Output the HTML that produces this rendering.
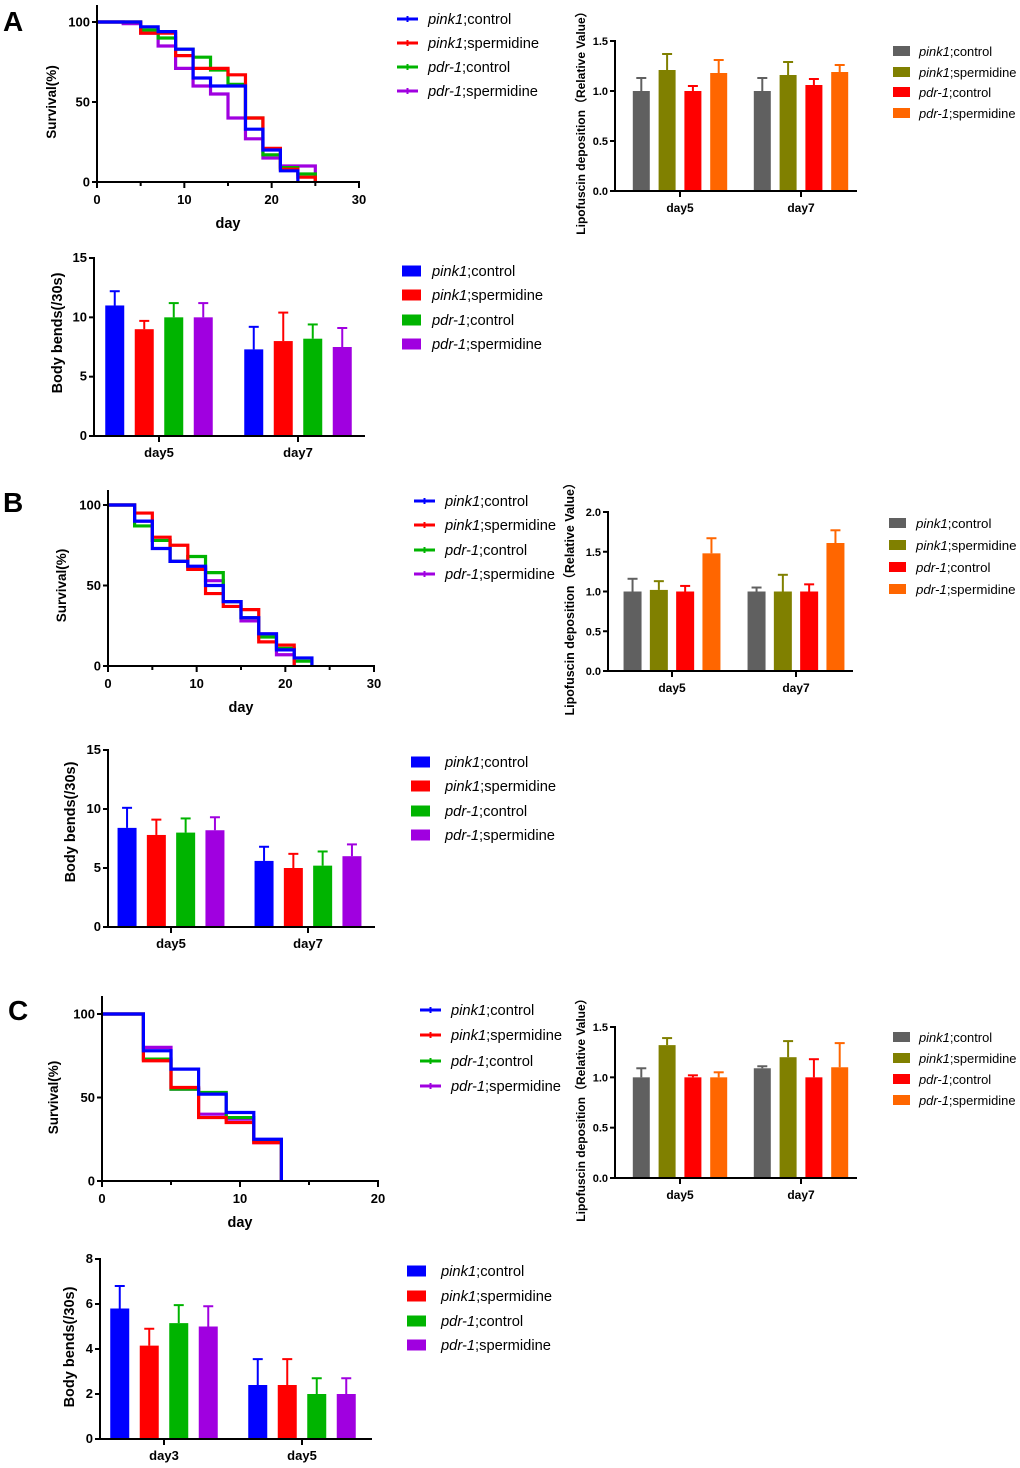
<!DOCTYPE html>
<html><head><meta charset="utf-8">
<style>
body{margin:0;background:#fff;}
svg{display:block;font-family:"Liberation Sans",Arial,sans-serif;}
</style></head>
<body>
<svg id="fig" width="1020" height="1468" viewBox="0 0 1020 1468" xmlns="http://www.w3.org/2000/svg">
<text x="3" y="31" font-size="28" font-weight="bold">A</text>
<text x="3" y="512" font-size="28" font-weight="bold">B</text>
<text x="8" y="1020" font-size="28" font-weight="bold">C</text>
</svg>
<script>
// ===== Data =====
const survTimesA=[0,3,5,7,9,11,13,15,17,19,21,23,25];
const survBlueA=[100,100,97,94,83,65,60,60,33,20,7,0,0];
const survRedA=[100,100,93,93,79,71,71,67,40,21,8,3,0];
const survGreenA=[100,100,95,90,83,78,70,61,40,17,9,5,0];
const survPurpleA=[100,99,93,85,71,60,55,40,27,15,10,10,0];

const survTimesB=[0,3,5,7,9,11,13,15,17,19,21,23];
const survBlueB=[100,90,73,65,62,50,40,30,20,10,5,0];
const survRedB=[100,95,80,75,60,45,37,35,15,13,0,0];
const survGreenB=[100,87,78,65,68,58,40,30,18,11,3,0];
const survPurpleB=[100,90,78,65,61,53,40,28,20,7,0,0];

const survTimesC=[0,3,5,7,9,11,13];
const survBlueC=[100,78,67,52,41,25,0];
const survRedC=[100,72,56,38,35,23,0];
const survGreenC=[100,73,55,53,38,24,0];
const survPurpleC=[100,80,55,40,37,23,0];

const survXTicksAB=[0,10,20,30];
const survXTicksC=[0,10,20];
const survYTicks=[0,50,100];

const lipoGroupsAB=["day5","day7"];
const lipoMeanA=[1.0,1.21,1.0,1.18, 1.0,1.16,1.06,1.19];
const lipoErrA=[0.13,0.16,0.05,0.13, 0.13,0.13,0.06,0.07];
const lipoMeanB=[1.0,1.02,1.0,1.48, 1.0,1.0,1.0,1.61];
const lipoErrB=[0.16,0.11,0.07,0.19, 0.05,0.21,0.09,0.16];
const lipoMeanC=[1.0,1.32,1.0,1.0, 1.09,1.2,1.0,1.1];
const lipoErrC=[0.09,0.07,0.02,0.05, 0.02,0.16,0.18,0.24];
const lipoTicksAC=["0.0","0.5","1.0","1.5"];
const lipoTicksB=["0.0","0.5","1.0","1.5","2.0"];

const bendGroupsAB=["day5","day7"];
const bendGroupsC=["day3","day5"];
const bendMeanA=[11,9,10,10, 7.3,8,8.2,7.5];
const bendErrA=[1.2,0.7,1.2,1.2, 1.9,2.4,1.2,1.6];
const bendMeanB=[8.4,7.8,8.0,8.2, 5.6,5.0,5.2,6.0];
const bendErrB=[1.7,1.3,1.2,1.1, 1.2,1.2,1.2,1.0];
const bendMeanC=[5.8,4.15,5.15,5.0, 2.4,2.4,2.0,2.0];
const bendErrC=[1.0,0.75,0.8,0.9, 1.15,1.15,0.7,0.7];
const bendTicksAB=["0","5","10","15"];
const bendTicksC=["0","2","4","6","8"];

const seriesGenes=["pink1","pink1","pdr-1","pdr-1"];
const seriesTreat=[";control",";spermidine",";control",";spermidine"];

// ===== Drawing =====
const NS='http://www.w3.org/2000/svg';
const svg=document.getElementById('fig');
function el(tag,attrs,parent){const e=document.createElementNS(NS,tag);for(const k in attrs)e.setAttribute(k,attrs[k]);(parent||svg).appendChild(e);return e;}
const survColors=['#0000ff','#ff0000','#00b400','#a000e0'];
const bendColors=['#0000ff','#ff0000','#00b400','#a000e0'];
const lipoColors=['#606060','#808000','#ff0000','#ff6600'];

function legendText(x,y,i,size,parent){
  const t=el('text',{x:x,y:y+5,'font-size':size},parent);
  
  
  const a=el('tspan',{'font-style':'italic'},t);a.textContent=seriesGenes[i];
  const b=el('tspan',{},t);b.textContent=seriesTreat[i];
}

function survival(c,times,series,xticks){
  const g=el('g',{});
  
  
  const sx=t=>c.x0+(t/c.xmax)*(c.x1-c.x0);
  const sy=v=>c.y0-(v/100)*(c.y0-c.y100);
  for(let s=series.length-1;s>=0;s--){
    const v=series[s];let d='M'+sx(times[0])+','+sy(v[0]);
    for(let i=1;i<times.length;i++){d+=' H'+sx(times[i])+' V'+sy(v[i]);if(v[i]===0)break;}
    const p=el('path',{d:d,fill:'none',stroke:survColors[s],'stroke-width':3.2,'stroke-linejoin':'miter'},g);
    
    
  }
  const ya=el('line',{x1:c.x0,y1:c.yTop,x2:c.x0,y2:c.y0+1,stroke:'#000','stroke-width':2},g);
  
  
  const xa=el('line',{x1:c.x0-1,y1:c.y0,x2:c.x1+1,y2:c.y0,stroke:'#000','stroke-width':2},g);
  
  
  survYTicks.forEach(v=>{
    el('line',{x1:c.x0-5,y1:sy(v),x2:c.x0,y2:sy(v),stroke:'#000','stroke-width':2},g);
    const t=el('text',{x:c.x0-7,y:sy(v)+4.5,'font-size':13,'font-weight':'bold','text-anchor':'end'},g);
    
    
    t.textContent=v;
  });
  for(let tv=0;tv<=c.xmax;tv+=5){
    const major=xticks.indexOf(tv)>=0;
    el('line',{x1:sx(tv),y1:c.y0,x2:sx(tv),y2:c.y0+(major?6:4),stroke:'#000','stroke-width':2},g);
  }
  xticks.forEach(v=>{
    const t=el('text',{x:sx(v),y:c.y0+22,'font-size':13,'font-weight':'bold','text-anchor':'middle'},g);
    
    
    t.textContent=v;
  });
  const xt=el('text',{x:(c.x0+c.x1)/2,y:c.y0+46,'font-size':14.5,'font-weight':'bold','text-anchor':'middle'},g);
  
  
  xt.textContent='day';
  const yt=el('text',{x:0,y:0,'font-size':13.5,'font-weight':'bold','text-anchor':'middle',transform:`translate(${c.ytx},${(c.y0+c.y100)/2}) rotate(-90)`},g);
  
  
  yt.textContent='Survival(%)';
  c.legY.forEach((ly,i)=>{
    const l=el('line',{x1:c.legX,y1:ly,x2:c.legX+21,y2:ly,stroke:survColors[i],'stroke-width':3},g);
    
    
    el('line',{x1:c.legX+10.5,y1:ly-3,x2:c.legX+10.5,y2:ly+3,stroke:survColors[i],'stroke-width':2},g);
    legendText(c.legX+31,ly,i,14.7,g);
  });
}

function bars(c,groups,mean,err,ticks,colors,title){
  const g=el('g',{});
  
  
  const vmax=parseFloat(ticks[ticks.length-1]);
  const sy=v=>c.y0-(v/vmax)*(c.y0-c.yTop);
  groups.forEach((gn,gi)=>{
    for(let i=0;i<4;i++){
      const k=gi*4+i;const cx=c.gx[gi]+(i-1.5)*c.sp;
      const e=el('line',{x1:cx,y1:sy(mean[k]),x2:cx,y2:sy(mean[k]+err[k]),stroke:colors[i],'stroke-width':2},g);
      
      
      el('line',{x1:cx-5,y1:sy(mean[k]+err[k]),x2:cx+5,y2:sy(mean[k]+err[k]),stroke:colors[i],'stroke-width':2},g);
      const r=el('rect',{x:cx-c.bw/2,y:sy(mean[k]),width:c.bw,height:c.y0-sy(mean[k]),fill:colors[i]},g);
      
      
    }
    el('line',{x1:c.gx[gi],y1:c.y0,x2:c.gx[gi],y2:c.y0+6,stroke:'#000','stroke-width':2},g);
    const t=el('text',{x:c.gx[gi],y:c.y0+21,'font-size':c.xfs,'font-weight':'bold','text-anchor':'middle'},g);
    
    
    t.textContent=gn;
  });
  const ya=el('line',{x1:c.x0,y1:c.yTop-1,x2:c.x0,y2:c.y0+1,stroke:'#000','stroke-width':2},g);
  
  
  const xa=el('line',{x1:c.x0-1,y1:c.y0,x2:c.x1,y2:c.y0,stroke:'#000','stroke-width':2},g);
  
  
  ticks.forEach(tv=>{
    const y=sy(parseFloat(tv));
    el('line',{x1:c.x0-5,y1:y,x2:c.x0,y2:y,stroke:'#000','stroke-width':2},g);
    const t=el('text',{x:c.x0-7,y:y+4,'font-size':c.tfs,'font-weight':'bold','text-anchor':'end'},g);
    
    
    t.textContent=tv;
  });
  const yt=el('text',{x:0,y:0,'font-size':c.yfs,'font-weight':'bold','text-anchor':'middle',transform:`translate(${c.ytx},${c.yty}) rotate(-90)`},g);
  
  
  yt.textContent=title;
  c.legY.forEach((ly,i)=>{
    const r=el('rect',{x:c.legX,y:ly-c.ls/2,width:c.lw,height:c.ls,fill:colors[i]},g);
    
    
    legendText(c.legX+c.lw+c.lgap,ly,i,c.lfs,g);
  });
}

survival({x0:97,x1:359,xmax:30,y0:182,y100:22,yTop:5,ytx:56,legX:397,legY:[19,43,67,91]},survTimesA,[survBlueA,survRedA,survGreenA,survPurpleA],survXTicksAB);
survival({x0:108,x1:374,xmax:30,y0:666,y100:505,yTop:490,ytx:66,legX:414,legY:[501,525,550,574]},survTimesB,[survBlueB,survRedB,survGreenB,survPurpleB],survXTicksAB);
survival({x0:102,x1:378,xmax:20,y0:1181,y100:1014,yTop:996,ytx:58,legX:420,legY:[1010,1035,1061,1086]},survTimesC,[survBlueC,survRedC,survGreenC,survPurpleC],survXTicksC);

const lipoTitle='Lipofuscin deposition（Relative Value）';
bars({x0:615,x1:857,y0:191,yTop:41,gx:[680,801],sp:25.8,bw:17,tfs:11,xfs:12,yfs:12,ytx:585,yty:120,legX:893,legY:[51,72,92,113],lw:17,ls:10,lgap:9,lfs:12.9},lipoGroupsAB,lipoMeanA,lipoErrA,lipoTicksAC,lipoColors,lipoTitle);
bars({x0:608,x1:853,y0:671,yTop:512,gx:[672,796],sp:26.3,bw:18,tfs:11,xfs:12,yfs:12.5,ytx:574,yty:596,legX:889,legY:[523,545,567,589],lw:17,ls:10,lgap:10,lfs:13.3},lipoGroupsAB,lipoMeanB,lipoErrB,lipoTicksB,lipoColors,lipoTitle);
bars({x0:615,x1:857,y0:1178,yTop:1027,gx:[680,801],sp:25.8,bw:17,tfs:11,xfs:12,yfs:12,ytx:585,yty:1107,legX:893,legY:[1037,1058,1079,1100],lw:17,ls:10,lgap:9,lfs:12.9},lipoGroupsAB,lipoMeanC,lipoErrC,lipoTicksAC,lipoColors,lipoTitle);

const bendTitle='Body bends(/30s)';
bars({x0:94,x1:365,y0:436,yTop:258,gx:[159,298],sp:29.5,bw:19,tfs:13,xfs:13,yfs:14.5,ytx:62,yty:333,legX:402,legY:[271,295,320,344],lw:19,ls:11,lgap:11,lfs:14.7},bendGroupsAB,bendMeanA,bendErrA,bendTicksAB,bendColors,bendTitle);
bars({x0:108,x1:375,y0:927,yTop:750,gx:[171,308],sp:29.3,bw:19,tfs:13,xfs:13,yfs:14.5,ytx:75,yty:822,legX:411,legY:[762,786,811,835],lw:19,ls:11,lgap:15,lfs:14.7},bendGroupsAB,bendMeanB,bendErrB,bendTicksAB,bendColors,bendTitle);
bars({x0:100,x1:372,y0:1439,yTop:1259,gx:[164,302],sp:29.5,bw:19,tfs:13,xfs:13,yfs:14.5,ytx:74,yty:1347,legX:407,legY:[1271,1296,1321,1345],lw:19,ls:11,lgap:15,lfs:14.7},bendGroupsC,bendMeanC,bendErrC,bendTicksC,bendColors,bendTitle);
</script>
</body></html>
